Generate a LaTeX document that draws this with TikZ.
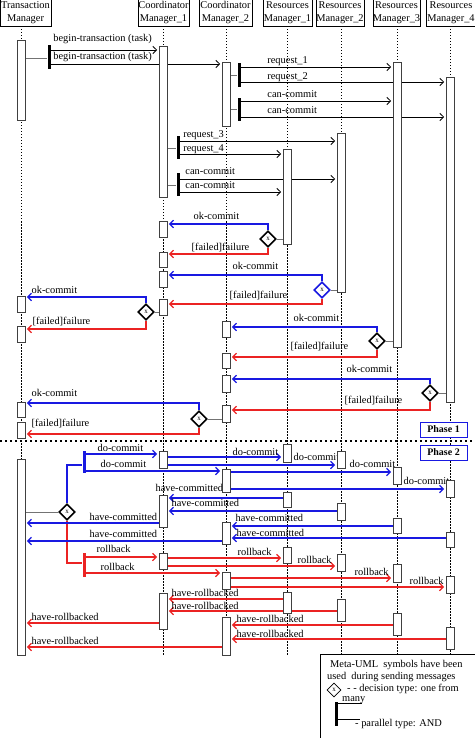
\documentclass[tikz,border=0pt]{standalone}
\usepackage{fontspec}
\setmainfont{Liberation Serif}
\usepackage{xcolor}
\usetikzlibrary{arrows}
\usetikzlibrary{arrows.meta, shapes.geometric, backgrounds}
\definecolor{msgblue}{RGB}{25,25,225}
\definecolor{msgred}{RGB}{235,35,35}

\begin{document}
\begin{tikzpicture}[x=1pt, y=-1pt,
	font=\fontsize{10.4}{13}\selectfont,
	head/.style={draw, line width=0.6pt, align=center, inner sep=0pt, minimum height=27},
	life/.style={line width=0.8pt, dash pattern=on 1.2pt off 1.8pt},
	act/.style={draw=black!75, line width=0.7pt, fill=white, minimum width=8, inner sep=0pt},
	forkbar/.style={fill=black, minimum width=3, inner sep=0pt},
	link/.style={draw=black!55, line width=0.7pt},
	msg/.style={line width=0.8pt, shorten >=1.5pt, -{Straight Barb[length=3.8pt, width=7.5pt]}},
	okmsg/.style={msg, draw=msgblue, line width=1.2pt},
	failmsg/.style={msg, draw=msgred, line width=1.2pt},
	dec/.style={diamond, draw, line width=1.6pt, fill=white, inner sep=0pt, minimum size=16, font=\fontsize{7}{7}\selectfont},
	lbl/.style={anchor=base west, inner sep=0pt},
	phase/.style={draw=msgblue, fill=white, line width=0.8pt, minimum width=47, minimum height=15, inner sep=0pt, font=\fontsize{10}{12}\selectfont\bfseries}]

	\useasboundingbox (0,0) rectangle (474,738);

	\node[head, minimum width=51] (tm) at (25.5,12.5) {Transaction\\Manager};
	\node[head, minimum width=51] (cma) at (163.5,12.5) {Coordinator\\Manager\_1};
	\node[head, minimum width=53] (cmb) at (225.5,12.5) {Coordinator\\Manager\_2};
	\node[head, minimum width=49] (rma) at (287.5,12.5) {Resources\\Manager\_1};
	\node[head, minimum width=48] (rmb) at (340,12.5) {Resources\\Manager\_2};
	\node[head, minimum width=47] (rmc) at (396.5,12.5) {Resources\\Manager\_3};
	\node[head, minimum width=50] (rmd) at (451,12.5) {Resources\\Manager\_4};

	\node[act, minimum height=80] (tm1) at (21,80) {};
	\node[act, minimum height=151] (cma1) at (163,121.5) {};
	\node[act, minimum height=64] (cmb1) at (226,94) {};
	\node[act, minimum height=285] (rmc1) at (397,204.5) {};
	\node[act, minimum height=325] (rmd1) at (450,239.5) {};
	\node[act, minimum height=159] (rmb1) at (341,212.5) {};
	\node[act, minimum height=95] (rma1) at (287,196.5) {};
	\node[act, minimum height=16] (cma2) at (163,229) {};
	\node[act, minimum height=15] (cma3) at (163,259.5) {};
	\node[act, minimum height=16] (cma4) at (163,279) {};
	\node[act, minimum height=16] (cma5) at (163,307) {};
	\node[act, minimum height=16] (tm2) at (21,304) {};
	\node[act, minimum height=16] (tm3) at (21,334) {};
	\node[act, minimum height=16] (cmb2) at (226,329) {};
	\node[act, minimum height=15] (cmb3) at (226,360.5) {};
	\node[act, minimum height=17] (cmb4) at (226,383.5) {};
	\node[act, minimum height=17] (cmb5) at (226,413.5) {};
	\node[act, minimum height=15] (tm4) at (21,409.5) {};
	\node[act, minimum height=16] (tm5) at (21,430) {};

	\node[act, minimum height=196] (tm6) at (21,557) {};
	\node[act, minimum height=17] (cma6) at (163,459.5) {};
	\node[act, minimum height=23] (cmb6) at (226,480.5) {};
	\node[act, minimum height=18] (rma2) at (287,453) {};
	\node[act, minimum height=17] (rmb2) at (341,459.5) {};
	\node[act, minimum height=17] (rmc2) at (397,475.5) {};
	\node[act, minimum height=17] (rmd2) at (450,488.5) {};
	\node[act, minimum height=15] (rma3) at (287,499.5) {};
	\node[act, minimum height=32] (cma7) at (163,511) {};
	\node[act, minimum height=17] (rmb3) at (341,511.5) {};
	\node[act, minimum height=15] (rmc3) at (397,525.5) {};
	\node[act, minimum height=22] (cmb7) at (226,533) {};
	\node[act, minimum height=15] (rmd3) at (450,539.5) {};
	\node[act, minimum height=16] (cma8) at (163,561) {};
	\node[act, minimum height=16] (rma4) at (287,555) {};
	\node[act, minimum height=17] (rmb4) at (341,562.5) {};
	\node[act, minimum height=17] (cmb8) at (226,580.5) {};
	\node[act, minimum height=18] (rmc4) at (397,573) {};
	\node[act, minimum height=17] (rmd4) at (450,584.5) {};
	\node[act, minimum height=21] (rma5) at (287,602.5) {};
	\node[act, minimum height=22] (rmb5) at (341,610) {};
	\node[act, minimum height=36] (cma9) at (163,611) {};
	\node[act, minimum height=22] (rmc5) at (397,624) {};
	\node[act, minimum height=22] (rmd5) at (450,638) {};
	\node[act, minimum height=38] (cmb9) at (226,636) {};

	\node[forkbar, minimum height=24] (par1) at (49,57) {};
	\node[forkbar, minimum height=24] (par2) at (239,75) {};
	\node[forkbar, minimum height=23] (par3) at (239,109.5) {};
	\node[forkbar, minimum height=23] (par4) at (178,147.5) {};
	\node[forkbar, minimum height=23] (par5) at (178,184.5) {};
	\node[forkbar, fill=msgblue, minimum height=22] (par6) at (84,462) {};
	\node[forkbar, fill=msgred, minimum height=24] (par7) at (84,565) {};

	\node[dec] (dec1) at (268,239) {x};
	\node[dec, draw=msgblue] (dec2) at (322,290) {x};
	\node[dec] (dec3) at (146,312) {x};
	\node[dec] (dec4) at (377,341) {x};
	\node[dec] (dec5) at (430,393) {x};
	\node[dec] (dec6) at (199,419) {x};
	\node[dec] (dec7) at (67,512) {x};

	\begin{pgfonlayer}{background}
	\draw[life] (tm1 |- tm.south) -- (tm1 |- 0,656);
	\draw[life] (cma1 |- cma.south) -- (cma1 |- 0,656);
	\draw[life] (cmb1 |- cmb.south) -- (cmb1 |- 0,656);
	\draw[life] (rma1 |- rma.south) -- (rma1 |- 0,656);
	\draw[life] (rmb1 |- rmb.south) -- (rmb1 |- 0,655);
	\draw[life] (rmc1 |- rmc.south) -- (rmc1 |- 0,655);
	\draw[life] (rmd1 |- rmd.south) -- (rmd1 |- 0,655);

	\draw[link] (tm1.east |- 0,58) -- (par1.west |- 0,58);
	\draw[msg] (par1.east |- 0,50) -- (cma1.west |- 0,50) node[lbl] at (53,42) {begin-transaction (task)};
	\draw[msg] (par1.east |- 0,64) -- (cmb1.west |- 0,64) node[lbl] at (53,60) {begin-transaction (task)};
	\draw[link] (cmb1.east |- 0,75) -- (par2.west |- 0,75);
	\draw[msg] (par2.east |- 0,67) -- (rmc1.west |- 0,67) node[lbl] at (267,64) {request\_1};
	\draw[msg] (par2.east |- 0,82) -- (rmd1.west |- 0,82) node[lbl] at (267,80) {request\_2};
	\draw[link] (cmb1.east |- 0,109) -- (par3.west |- 0,109);
	\draw[msg] (par3.east |- 0,101) -- (rmc1.west |- 0,101) node[lbl] at (267,98) {can-commit};
	\draw[msg] (par3.east |- 0,117) -- (rmd1.west |- 0,117) node[lbl] at (267,114) {can-commit};
	\draw[link] (cma1.east |- 0,148) -- (par4.west |- 0,148);
	\draw[msg] (par4.east |- 0,141) -- (rmb1.west |- 0,141) node[lbl] at (183,138) {request\_3};
	\draw[msg] (par4.east |- 0,154) -- (rma1.west |- 0,154) node[lbl] at (183,152) {request\_4};
	\draw[link] (cma1.east |- 0,185) -- (par5.west |- 0,185);
	\draw[msg] (par5.east |- 0,179) -- (rmb1.west |- 0,179) node[lbl] at (185,175) {can-commit};
	\draw[msg] (par5.east |- 0,192) -- (rma1.west |- 0,192) node[lbl] at (185,189) {can-commit};

	\draw[link] (dec1) -- (rma1.west |- dec1);
	\draw[okmsg] (dec1.north) |- (cma2.east |- 0,224) node[lbl] at (193,219) {ok-commit};
	\draw[failmsg] (dec1.south) |- (cma3.east |- 0,254) node[lbl] at (191,250) {[failed]failure};
	\draw[link] (dec2) -- (rmb1.west |- dec2);
	\draw[okmsg] (dec2.north) |- (cma4.east |- 0,275) node[lbl] at (232,269) {ok-commit};
	\draw[failmsg] (dec2.south) |- (cma5.east |- 0,304) node[lbl] at (229,298) {[failed]failure};
	\draw[link] (dec3) -- (cma5.west |- dec3);
	\draw[okmsg] (dec3.north) |- (tm2.east |- 0,297) node[lbl] at (31,293) {ok-commit};
	\draw[failmsg] (dec3.south) |- (tm3.east |- 0,329) node[lbl] at (32,324) {[failed]failure};
	\draw[link] (dec4) -- (rmc1.west |- dec4);
	\draw[okmsg] (dec4.north) |- (cmb2.east |- 0,327) node[lbl] at (293,321) {ok-commit};
	\draw[failmsg] (dec4.south) |- (cmb3.east |- 0,357) node[lbl] at (290,349) {[failed]failure};
	\draw[link] (dec5) -- (rmd1.west |- dec5);
	\draw[okmsg] (dec5.north) |- (cmb4.east |- 0,379) node[lbl] at (346,372) {ok-commit};
	\draw[failmsg] (dec5.south) |- (cmb5.east |- 0,410) node[lbl] at (344,403) {[failed]failure};
	\draw[link] (dec6) -- (cmb5.west |- dec6);
	\draw[okmsg] (dec6.north) |- (tm4.east |- 0,403) node[lbl] at (31,396) {ok-commit};
	\draw[failmsg] (dec6.south) |- (tm5.east |- 0,434) node[lbl] at (31,426) {[failed]failure};

	\draw[link] (tm6.east |- dec7) -- (dec7);
	\draw[msgblue, line width=1.2pt] (dec7.north) |- (par6.west |- 0,465);
	\draw[msgred, line width=1.2pt] (dec7.south) |- (par7.west |- 0,563);

	\draw[okmsg] (par6.east |- 0,454) -- (cma6.west |- 0,454) node[lbl] at (97,451) {do-commit};
	\draw[okmsg] (par6.east |- 0,471) -- (cmb6.west |- 0,471) node[lbl] at (100,467) {do-commit};
	\draw[okmsg] (cma6.east |- 0,457) -- (rma2.west |- 0,457) node[lbl] at (232,455) {do-commit};
	\draw[okmsg] (cma6.east |- 0,465) -- (rmb2.west |- 0,465) node[lbl] at (293,460) {do-commit};
	\draw[okmsg] (cmb6.east |- 0,472) -- (rmc2.west |- 0,472) node[lbl] at (349,467) {do-commit};
	\draw[okmsg] (cmb6.east |- 0,489) -- (rmd2.west |- 0,489) node[lbl] at (403,484) {do-commit};
	\draw[okmsg] (rma3.west |- 0,498) -- (cma7.east |- 0,498) node[lbl] at (155,491) {have-committed};
	\draw[okmsg] (rmb3.west |- 0,511) -- (cma7.east |- 0,511) node[lbl] at (171,506) {have-committed};
	\draw[okmsg] (cma7.west |- 0,523) -- (tm6.east |- 0,523) node[lbl] at (89,520) {have-committed};
	\draw[okmsg] (rmc3.west |- 0,526) -- (cmb7.east |- 0,526) node[lbl] at (235,521) {have-committed};
	\draw[okmsg] (rmd3.west |- 0,538) -- (cmb7.east |- 0,538) node[lbl] at (236,536) {have-committed};
	\draw[okmsg] (cmb7.west |- 0,541) -- (tm6.east |- 0,541) node[lbl] at (89,537) {have-committed};

	\draw[failmsg] (par7.east |- 0,557) -- (cma8.west |- 0,557) node[lbl] at (96,552) {rollback};
	\draw[failmsg] (par7.east |- 0,573) -- (cmb8.west |- 0,573) node[lbl] at (100,570) {rollback};
	\draw[failmsg] (cma8.east |- 0,558) -- (rma4.west |- 0,558) node[lbl] at (237,555) {rollback};
	\draw[failmsg] (cma8.east |- 0,566) -- (rmb4.west |- 0,566) node[lbl] at (297,563) {rollback};
	\draw[failmsg] (cmb8.east |- 0,578) -- (rmc4.west |- 0,578) node[lbl] at (354,575) {rollback};
	\draw[failmsg] (cmb8.east |- 0,587) -- (rmd4.west |- 0,587) node[lbl] at (409,584) {rollback};
	\draw[failmsg] (rma5.west |- 0,599) -- (cma9.east |- 0,599) node[lbl] at (171,596) {have-rollbacked};
	\draw[failmsg] (rmb5.west |- 0,611) -- (cma9.east |- 0,611) node[lbl] at (171,609) {have-rollbacked};
	\draw[failmsg] (cma9.west |- 0,623) -- (tm6.east |- 0,623) node[lbl] at (31,620) {have-rollbacked};
	\draw[failmsg] (rmc5.west |- 0,625) -- (cmb9.east |- 0,625) node[lbl] at (236,622) {have-rollbacked};
	\draw[failmsg] (rmd5.west |- 0,639) -- (cmb9.east |- 0,639) node[lbl] at (236,637) {have-rollbacked};
	\draw[failmsg] (cmb9.west |- 0,647) -- (tm6.east |- 0,647) node[lbl] at (31,644) {have-rollbacked};
	\end{pgfonlayer}

	\draw[line width=2.2pt, dash pattern=on 2.2pt off 2.8pt] (0,441) -- (474,441);
	\node[phase] (ph1) at (443.5,429.5) {Phase 1};
	\node[phase] (ph2) at (443.5,452.5) {Phase 2};

	\node[draw, line width=0.6pt, minimum width=156, minimum height=86, inner sep=0pt] (legend) at (398,697) {};
	\node[lbl] at (330,667) {Meta-UML\ \ symbols have been};
	\node[lbl] at (327,679) {used\ \ during sending messages};
	\node[dec, line width=0.6pt, minimum size=14] (legdec) at (334,690) {x};
	\node[lbl] at (347,691) {- - decision type: one from};
	\node[lbl] at (342,701.5) {many};
	\node[forkbar, minimum height=24] (legbar) at (336,714) {};
	\draw[line width=0.6pt] (legbar.east |- 0,703) -- (362,703);
	\draw[line width=0.6pt] (legbar.east |- 0,719) -- (360,719);
	\node[lbl] at (355,726) {- parallel type: AND};
\end{tikzpicture}
\end{document}
